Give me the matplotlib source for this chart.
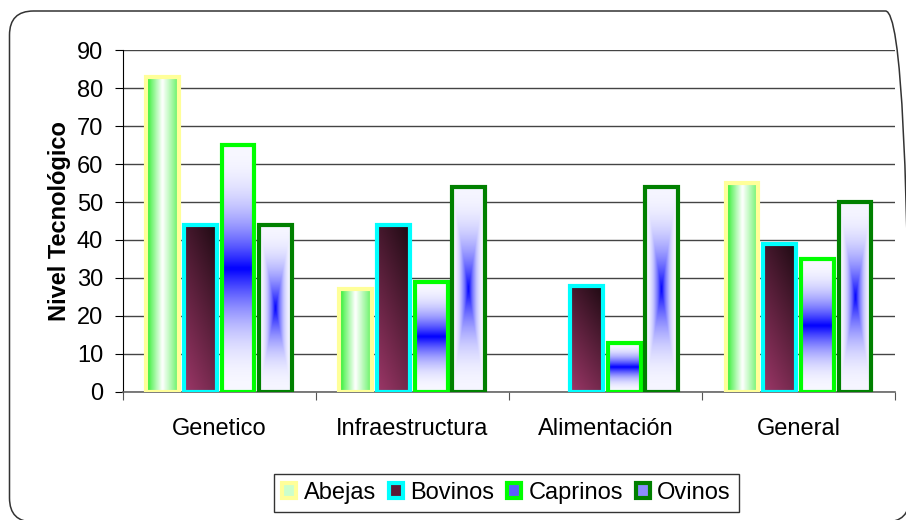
import numpy as np
import matplotlib
matplotlib.use('Agg')
import matplotlib.pyplot as plt
from matplotlib.patches import FancyBboxPatch, Patch
from matplotlib.transforms import IdentityTransform

# data
categories = ["Genetico", "Infraestructura", "Alimentación", "General"]
series = ["Abejas", "Bovinos", "Caprinos", "Ovinos"]
abejas = [83, 27, 0, 55]
bovinos = [44, 44, 28, 39]
caprinos = [65, 29, 13, 35]
ovinos = [44, 54, 54, 50]
values = [abejas, bovinos, caprinos, ovinos]

edge_colors = ["#ffff99", "#00ffff", "#00ff00", "#008000"]
legend_faces = ["#ccffcc", "#5a1a35", "#5c5cff", "#8c8cff"]

plt.rcParams['font.family'] = ['Liberation Sans', 'DejaVu Sans']
plt.rcParams['font.size'] = 17


def mix(c1, c2, t):
    c1 = np.array(matplotlib.colors.to_rgb(c1))
    c2 = np.array(matplotlib.colors.to_rgb(c2))
    t = np.clip(t, 0, 1)[..., None]
    return c1 * (1 - t) + c2 * t


def gradient(kind, ny=120, nx=40):
    u, v = np.meshgrid(np.linspace(0, 1, nx), np.linspace(0, 1, ny))
    if kind == 0:
        # green - white - green, horizontal
        f = np.where(u < 0.5, u / 0.5, 1 - (u - 0.5) / 0.5 * 0.75)
        return mix("#22ee22", "#ffffff", f ** 0.9)
    if kind == 1:
        # dark wine, lighter at bottom left
        s = 0.75 * v + 0.35 * u
        return mix("#9c3768", "#1e0a12", s / 1.1)
    if kind == 2:
        # white - blue - white, vertical
        g = 1 - np.abs(v - 0.5) * 2
        return mix("#f8f8ff", "#0000ff", g ** 2.2)
    # from centre
    d = np.maximum(np.abs(u - 0.5) * 2, np.abs(v - 0.5) * 2)
    return mix("#f6f6ff", "#0000ff", (1 - d) ** 2.2)


fig = plt.figure(figsize=(9.06, 5.2), dpi=100)
ax = fig.add_axes([0.1354, 0.2462, 0.8525, 0.6576])

x = np.arange(len(categories))
width = 0.17
step = 0.195

for i, (name, vals) in enumerate(zip(series, values)):
    offs = (i - 1.5) * step
    bars = ax.bar(x + offs, vals, width, facecolor='none',
                  edgecolor=edge_colors[i], linewidth=3, zorder=3)
    for b in bars:
        h = b.get_height()
        if h <= 0:
            b.set_visible(False)
            continue
        img = gradient(i)
        im = ax.imshow(img, extent=(b.get_x(), b.get_x() + b.get_width(), 0, h),
                       origin='lower', aspect='auto', zorder=2,
                       interpolation='bilinear')
        im.set_clip_path(b)

ax.set_xlim(-0.5, 3.5)
ax.set_ylim(0, 90)
ax.set_yticks(np.arange(0, 91, 10))
ax.set_xticks(np.arange(-0.5, 3.6, 1))
ax.set_xticklabels([])
ax.set_xticks(x, minor=True)
ax.set_xticklabels(categories, minor=True)
ax.tick_params(axis='x', which='minor', length=0, pad=19)
ax.tick_params(axis='x', which='major', direction='out', length=6, color='#555555')
ax.tick_params(axis='y', direction='out', length=6, pad=8)

ax.yaxis.grid(True, color='#444444', linewidth=1)
ax.set_axisbelow(True)
for s in ['top', 'right']:
    ax.spines[s].set_visible(False)
ax.spines['left'].set_color('black')
ax.spines['bottom'].set_color('#666666')
ax.spines['bottom'].set_linewidth(1.2)

ax.set_ylabel("Nivel Tecnológico", fontweight='bold', labelpad=4)

handles = [Patch(facecolor=legend_faces[i], edgecolor=edge_colors[i], linewidth=3)
           for i in range(4)]
leg = fig.legend(handles, series, loc='center', bbox_to_anchor=(0.559, 0.052),
                 ncol=4, frameon=True, fancybox=False, edgecolor='black',
                 handlelength=0.6, handleheight=0.6, handletextpad=0.3,
                 columnspacing=0.55, borderpad=0.35, borderaxespad=0)
leg.get_frame().set_linewidth(1)

# rounded outer border
border = FancyBboxPatch((9.5, -2), 900, 511, boxstyle="round,pad=0,rounding_size=24",
                        transform=IdentityTransform(), facecolor='none',
                        edgecolor='#333333', linewidth=1.1)
fig.patches.append(border)

fig.savefig("out.png", dpi=100)
